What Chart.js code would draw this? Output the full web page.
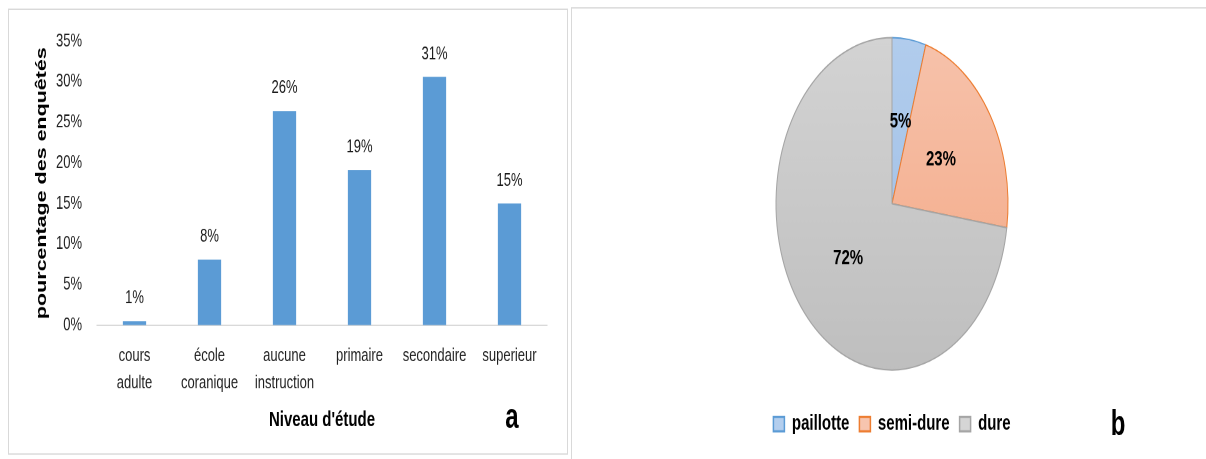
<!DOCTYPE html>
<html>
<head>
<meta charset="utf-8">
<script src="https://cdn.jsdelivr.net/npm/chart.js@4.4.1/dist/chart.umd.min.js"></script>
<style>
html, body { margin:0; padding:0; background:#fff; overflow:hidden; }
/* the whole figure is stretched vertically, like the original picture */
#stage { position:absolute; left:0; top:0; width:1206px; height:321px; transform:scaleY(1.43); transform-origin:0 0; }
.panel { position:absolute; border:1px solid #d9d9d9; box-sizing:border-box; }
#panelA { left:8px; top:6px; width:560px; height:312px; }
#panelB { left:571px; top:5px; width:650px; height:330px; }
#barBox { position:absolute; left:8px; top:6px; width:559px; height:312px; }
#pieBox { position:absolute; left:672px; top:6.4px; width:440px; height:307.6px; }
.tag { position:absolute; font:bold 24px "Liberation Sans", Arial, sans-serif; color:#000; line-height:24px; transform:translate(-50%,-50%); }
</style>
</head>
<body>
<div id="stage">
  <div class="panel" id="panelA"></div>
  <div class="panel" id="panelB"></div>
  <div id="barBox"><canvas id="bars"></canvas></div>
  <div id="pieBox"><canvas id="pie"></canvas></div>
  <div class="tag" style="left:512px; top:291px;">a</div>
  <div class="tag" style="left:1118px; top:296px;">b</div>
</div>
<script>
// niveau d'étude (a)
var levels = [['cours', 'adulte'], ['école', 'coranique'], ['aucune', 'instruction'], 'primaire', 'secondaire', 'superieur'];
var levelShares = [0.5, 8.1, 26.4, 19.1, 30.6, 15.0];
var levelLabels = ['1%', '8%', '26%', '19%', '31%', '15%'];
var yMax = 35;
var yStep = 5;

// type d'habitat (b)
var housing = ['paillotte', 'semi-dure', 'dure'];
var housingShares = [4.7, 22.6, 72.7];
var housingLabels = ['5%', '23%', '72%'];
var pieFills = [['#b3ceee', '#9bbbe3'], ['#f7c5af', '#f3a47f'], ['#d5d5d5', '#bdbdbd']];
var pieEdges = ['#5b9bd5', '#ed7d31', '#a5a5a5'];

var FONT = '"Liberation Sans", Arial, sans-serif';
Chart.defaults.font.family = FONT;

var barLabels = {
    id: 'barLabels',
    afterDatasetsDraw: function(chart) {
        var ctx = chart.ctx;
        ctx.save();
        ctx.font = '13px ' + FONT;
        ctx.fillStyle = '#1a1a1a';
        ctx.textAlign = 'center';
        ctx.textBaseline = 'middle';
        chart.getDatasetMeta(0).data.forEach(function(bar, i) {
            ctx.fillText(levelLabels[i], bar.x, bar.y - 16);
        });
        ctx.restore();
    }
};

var pieLabels = {
    id: 'pieLabels',
    afterDatasetsDraw: function(chart) {
        var ctx = chart.ctx;
        ctx.save();
        ctx.font = 'bold 15px ' + FONT;
        ctx.fillStyle = '#000';
        ctx.textAlign = 'center';
        ctx.textBaseline = 'middle';
        chart.getDatasetMeta(0).data.forEach(function(arc, i) {
            var p = arc.getCenterPoint();
            ctx.fillText(housingLabels[i], p.x, p.y);
        });
        ctx.restore();
    }
};

new Chart(document.getElementById('bars').getContext('2d'), {
    type: 'bar',
    data: {
        labels: levels,
        datasets: [{
            data: levelShares,
            backgroundColor: '#5b9bd5',
            categoryPercentage: 1,
            barPercentage: 0.31
        }]
    },
    options: {
        responsive: true,
        maintainAspectRatio: false,
        animation: false,
        devicePixelRatio: 2,
        layout: { padding: { top: 20, right: 20, left: 0, bottom: 0 } },
        scales: {
            x: {
                grid: { display: false, drawTicks: false },
                border: { display: true, color: '#d9d9d9', width: 1 },
                ticks: { color: '#1f1f1f', padding: 12, font: { size: 13, lineHeight: 1.46 }, maxRotation: 0, autoSkip: false },
                title: { display: true, text: "Niveau d'étude", color: '#000', font: { size: 15, weight: 'bold' }, padding: { top: 0, bottom: 15 } },
                afterFit: function(scale) { scale.height = 90.6; }
            },
            y: {
                min: 0,
                max: yMax,
                grid: { display: false, drawTicks: false },
                border: { display: false },
                ticks: { stepSize: yStep, color: '#1f1f1f', padding: 15, font: { size: 13 },
                    callback: function(v) { return v + '%'; } },
                title: { display: true, text: 'pourcentage des enquêtés', color: '#000', font: { size: 15, weight: 'bold' }, padding: { top: 25, bottom: 0 } },
                afterFit: function(scale) { scale.width = 89; }
            }
        },
        plugins: { legend: { display: false }, tooltip: { enabled: false } }
    },
    plugins: [barLabels]
});

new Chart(document.getElementById('pie').getContext('2d'), {
    type: 'pie',
    data: {
        labels: housing,
        datasets: [{
            data: housingShares,
            backgroundColor: function(c) {
                var area = c.chart.chartArea;
                var pair = pieFills[c.dataIndex];
                if (!area) return pair[0];
                var g = c.chart.ctx.createLinearGradient(0, area.top, 0, area.bottom);
                g.addColorStop(0, pair[0]);
                g.addColorStop(1, pair[1]);
                return g;
            },
            borderColor: pieEdges,
            borderWidth: 1
        }]
    },
    options: {
        responsive: true,
        maintainAspectRatio: false,
        animation: false,
        devicePixelRatio: 2,
        radius: 116,
        layout: { padding: 0 },
        plugins: {
            tooltip: { enabled: false },
            legend: {
                position: 'bottom',
                labels: {
                    boxWidth: 11,
                    boxHeight: 10,
                    padding: 10,
                    color: '#000',
                    font: { size: 15, weight: 'bold' },
                    generateLabels: function() {
                        return housing.map(function(name, i) {
                            return { text: name, fillStyle: pieFills[i][0], strokeStyle: pieEdges[i], lineWidth: 1.5, hidden: false, index: i, fontColor: '#000' };
                        });
                    }
                }
            }
        }
    },
    plugins: [pieLabels]
});
</script>
</body>
</html>
